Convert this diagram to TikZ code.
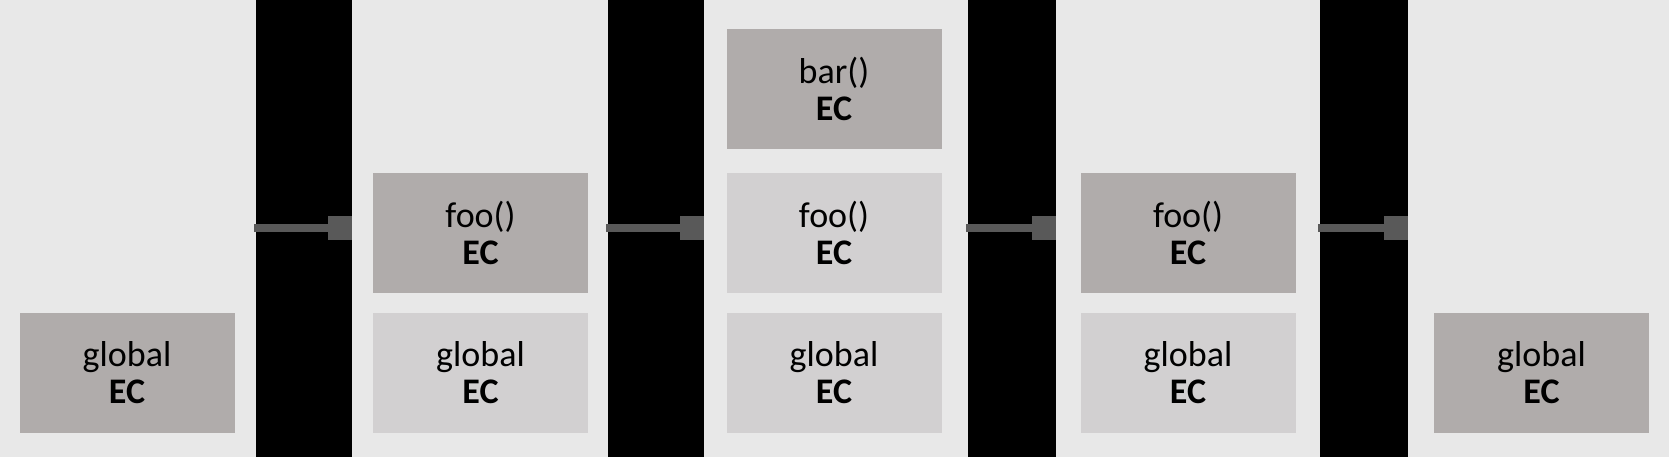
\documentclass[tikz,border=0pt]{standalone}
\usepackage{fontspec}
\setmainfont{Carlito}
\usetikzlibrary{arrows.meta,positioning}

\definecolor{panelgray}{HTML}{E8E8E8}
\definecolor{ecdark}{HTML}{B0ACAB}
\definecolor{eclight}{HTML}{D2D0D1}
\definecolor{linegray}{HTML}{595959}

\begin{document}
\begin{tikzpicture}[x=1pt,y=1pt,
  ecbox/.style={minimum width=215pt,minimum height=120pt,inner sep=0pt,
     align=center,font=\fontsize{36}{37}\selectfont},
  ecactive/.style={ecbox,fill=ecdark},
  ecidle/.style={ecbox,fill=eclight},
  pushline/.style={line width=8pt,linegray,-{Square[length=24pt,width=24pt]}}]

\fill[panelgray] (0,0) rectangle (1669,457);
\useasboundingbox (0,0) rectangle (1669,457);

\foreach \a/\b/\n in {256/352/1,608/704/2,968/1056/3,1320/1408/4}
  {\fill[black] (\a,0) rectangle (\b,457);
   \coordinate (s\n) at (\a-2,229);
   \coordinate (e\n) at (\b,229);}

\foreach \n in {1,...,4}{\draw[pushline] (s\n) -- (e\n);}

\node[ecactive] (g1) at (127.0,84) {global\\\textbf{EC}};

\node[ecidle]   (g2) at (480.5,84) {global\\\textbf{EC}};
\node[ecactive] (f2) at (480.5,224) {foo()\\\textbf{EC}};

\node[ecidle]   (g3) at (834.0,84) {global\\\textbf{EC}};
\node[ecidle]   (f3) at (834.0,224) {foo()\\\textbf{EC}};
\node[ecactive] (b3) at (834.0,368) {bar()\\\textbf{EC}};

\node[ecidle]   (g4) at (1188.0,84) {global\\\textbf{EC}};
\node[ecactive] (f4) at (1188.0,224) {foo()\\\textbf{EC}};

\node[ecactive] (g5) at (1541.5,84) {global\\\textbf{EC}};

\end{tikzpicture}
\end{document}
